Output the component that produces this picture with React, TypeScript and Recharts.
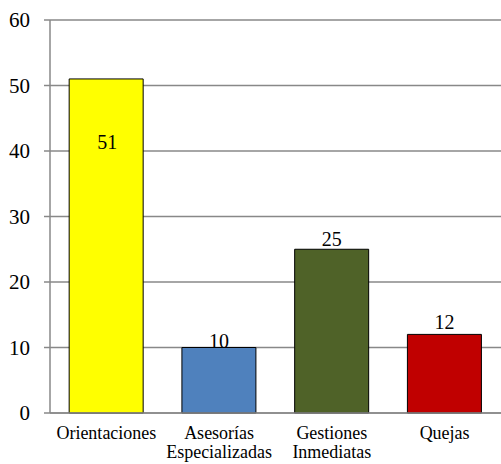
import React from 'react';
import { BarChart, Bar, XAxis, YAxis, CartesianGrid, Cell, LabelList } from 'recharts';

const categories = ['Orientaciones', 'Asesorías Especializadas', 'Gestiones Inmediatas', 'Quejas'];
const categoryLines = [['Orientaciones'], ['Asesorías', 'Especializadas'], ['Gestiones', 'Inmediatas'], ['Quejas']];
const values = [51, 10, 25, 12];
const colors = ['#FFFF00', '#4F81BD', '#4F6228', '#C00000'];
const yTicks = [0, 10, 20, 30, 40, 50, 60];
const boundaryTicks = [0, 1, 2, 3, 4];

const data = categories.map((c, i) => ({ name: c, value: values[i], idx: i }));

const FONT = "'Liberation Serif', 'Times New Roman', Times, serif";

const CatTick = (props: any) => {
  const { x, y, payload } = props;
  const idx = categories.indexOf(payload.value);
  const lines = categoryLines[idx] || [payload.value];
  return (
    <text x={x} y={y} textAnchor="middle" style={{ fontFamily: FONT, fontSize: 18 }} fill="#000">
      {lines.map((l, i) => (
        <tspan key={i} x={x} dy={i === 0 ? 18 : 19}>{l}</tspan>
      ))}
    </text>
  );
};

const YTick = (props: any) => {
  const { x, y, payload } = props;
  return (
    <text x={x - 12} y={y} textAnchor="end" dominantBaseline="central" style={{ fontFamily: FONT, fontSize: 21 }} fill="#000">
      {payload.value}
    </text>
  );
};

const labelGaps = [0, 0, 3, 5];

const ValueLabel = (props: any) => {
  const { x, y, width, height, value, index } = props;
  const cx = x + width / 2;
  if (index === 0) {
    return (
      <text x={cx + 1} y={y + height * 0.19} textAnchor="middle" dominantBaseline="central" style={{ fontFamily: FONT, fontSize: 20 }} fill="#000">
        {value}
      </text>
    );
  }
  return (
    <text x={cx} y={y - (labelGaps[index] ?? 3)} textAnchor="middle" style={{ fontFamily: FONT, fontSize: 20 }} fill="#000">
      {value}
    </text>
  );
};

export default function App() {
  return (
    <div style={{ position: 'absolute', left: 0, top: 0, background: '#fff', fontFamily: FONT }}>
      <BarChart
        width={501}
        height={464}
        data={data}
        margin={{ top: 20, right: 0, bottom: 0, left: 0 }}
        barCategoryGap="17%"
      >
        <CartesianGrid vertical={false} stroke="#888" strokeWidth={1.5} />
        <XAxis
          dataKey="name"
          xAxisId="cat"
          height={51}
          tick={<CatTick />}
          tickLine={false}
          axisLine={{ stroke: '#888', strokeWidth: 1.5 }}
          interval={0}
        />
        <XAxis
          xAxisId="grid"
          type="number"
          domain={[0, 4]}
          ticks={boundaryTicks}
          height={0}
          tick={false}
          tickSize={5}
          tickLine={{ stroke: '#888', strokeWidth: 1.5 }}
          axisLine={false}
        />
        <YAxis
          width={50}
          domain={[0, 60]}
          ticks={yTicks}
          interval={0}
          tickSize={6}
          tickLine={{ stroke: '#888', strokeWidth: 1.5 }}
          axisLine={{ stroke: '#888', strokeWidth: 1.5 }}
          tick={<YTick />}
        />
        <Bar dataKey="value" xAxisId="cat" isAnimationActive={false} stroke="#000" strokeWidth={1}>
          {data.map((d, i) => (
            <Cell key={i} fill={colors[i]} />
          ))}
          <LabelList dataKey="value" content={<ValueLabel />} />
        </Bar>
      </BarChart>
    </div>
  );
}
